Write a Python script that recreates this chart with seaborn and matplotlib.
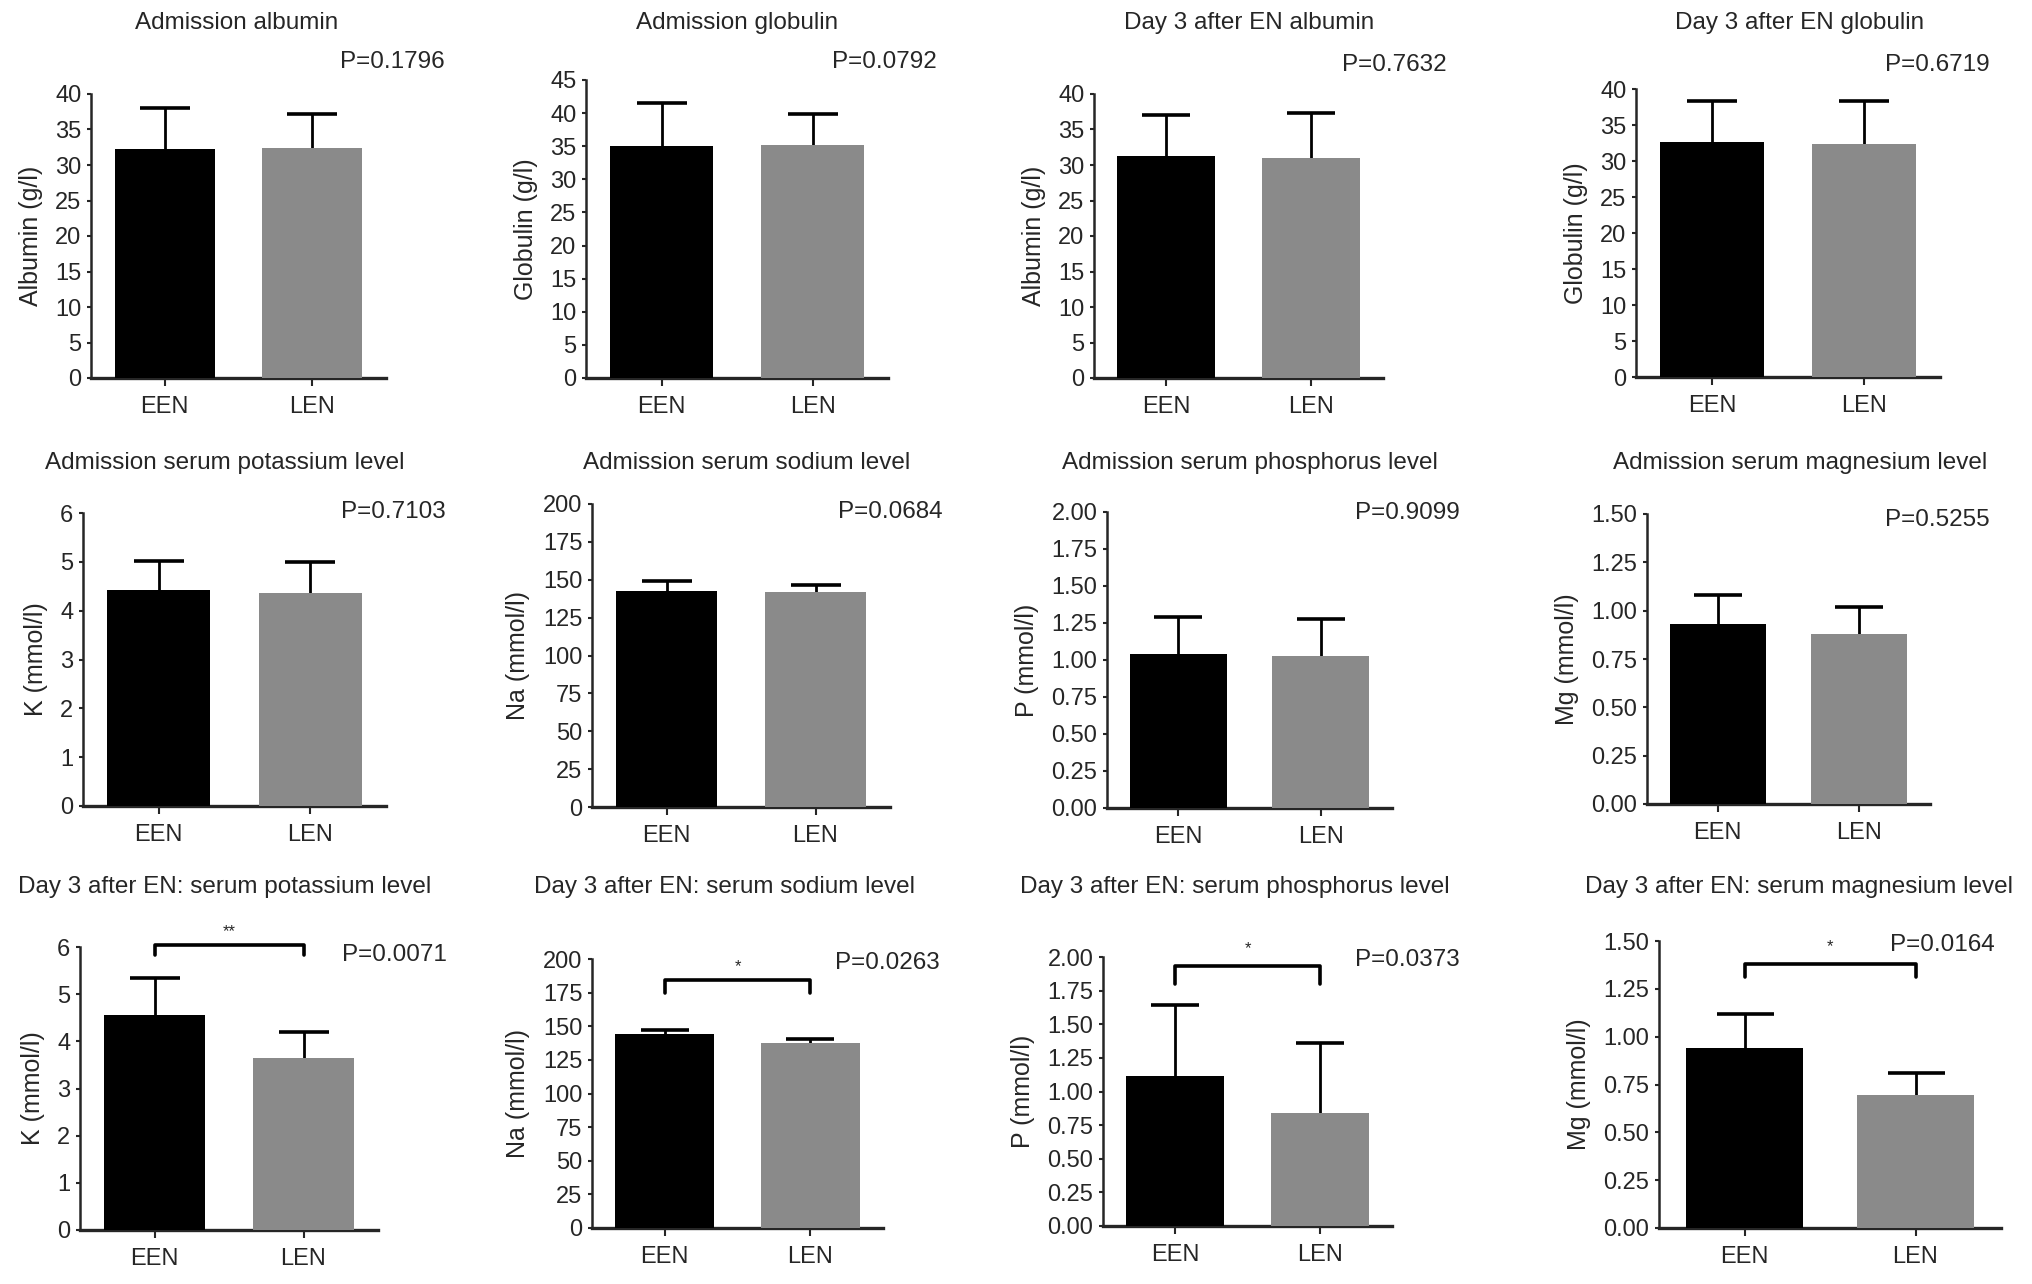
import numpy as np
import seaborn as sns
import matplotlib.pyplot as plt
from matplotlib import transforms

sns.set_style('ticks')
plt.rcParams['font.family'] = ['Liberation Sans', 'DejaVu Sans']

groups = ['EEN', 'LEN']
titles = ['Admission albumin', 'Admission globulin',
          'Day 3 after EN albumin', 'Day 3 after EN globulin',
          'Admission serum potassium level', 'Admission serum sodium level',
          'Admission serum phosphorus level', 'Admission serum magnesium level',
          'Day 3 after EN: serum potassium level', 'Day 3 after EN: serum sodium level',
          'Day 3 after EN: serum phosphorus level', 'Day 3 after EN: serum magnesium level']
ylabels = ['Albumin (g/l)', 'Globulin (g/l)', 'Albumin (g/l)', 'Globulin (g/l)',
           'K (mmol/l)', 'Na (mmol/l)', 'P (mmol/l)', 'Mg (mmol/l)',
           'K (mmol/l)', 'Na (mmol/l)', 'P (mmol/l)', 'Mg (mmol/l)']
p_values = ['P=0.1796', 'P=0.0792', 'P=0.7632', 'P=0.6719',
            'P=0.7103', 'P=0.0684', 'P=0.9099', 'P=0.5255',
            'P=0.0071', 'P=0.0263', 'P=0.0373', 'P=0.0164']

een_mean = [32.3, 35.1, 31.2, 32.7, 4.42, 142.7, 1.04, 0.93, 4.56, 144.2, 1.115, 0.943]
een_sd = [5.7, 6.5, 5.9, 5.6, 0.60, 6.2, 0.25, 0.15, 0.78, 3.3, 0.525, 0.174]
len_mean = [32.4, 35.2, 31.0, 32.4, 4.37, 141.8, 1.03, 0.88, 3.64, 137.3, 0.84, 0.694]
len_sd = [4.8, 4.6, 6.3, 5.9, 0.63, 4.9, 0.25, 0.14, 0.56, 3.5, 0.52, 0.115]

y_max = [40, 45, 40, 40, 6, 200, 2.0, 1.5, 6, 200, 2.0, 1.5]
y_step = [5, 5, 5, 5, 1, 25, 0.25, 0.25, 1, 25, 0.25, 0.25]

# significance brackets (panel index -> bracket top, drop end, stars, star y)
sig_panels = [8, 9, 10, 11]
sig_top = [6.05, 184.6, 1.93, 1.38]
sig_drop = [5.84, 175.0, 1.80, 1.31]
sig_label = ['**', '*', '*', '*']
sig_star_y = [6.33, 194.5, 2.06, 1.47]

# layout in pixels: left, right, bottom, top of each axes
W_PX, H_PX = 2032, 1284
boxes = [(91, 386, 378, 94), (586, 888, 378, 80), (1094, 1383, 378, 94), (1636, 1940, 377, 89),
         (83, 386, 806, 513), (592, 890, 807, 504), (1107, 1392, 808, 512), (1647, 1930, 804, 514),
         (80, 378, 1230, 947), (592, 883, 1228, 959), (1103, 1392, 1226, 957), (1659, 2001, 1228, 941)]
title_x = [237, 737, 1249, 1800, 225, 747, 1250, 1800, 225, 725, 1235, 1799]
title_y = [23] * 4 + [463] * 4 + [887] * 4
p_pos = [(445, 62), (937, 62), (1447, 65), (1990, 65),
         (446, 512), (943, 512), (1460, 513), (1990, 520),
         (447, 955), (940, 963), (1460, 960), (1995, 945)]

colors = ['#000000', '#8a8a8a']

fig = plt.figure(figsize=(W_PX / 100, H_PX / 100), dpi=100)

for i in range(12):
    l, r, b, t = boxes[i]
    ax = fig.add_axes([l / W_PX, 1 - b / H_PX, (r - l) / W_PX, (b - t) / H_PX])
    means = [een_mean[i], len_mean[i]]
    sds = [een_sd[i], len_sd[i]]
    sns.barplot(x=groups, y=means, hue=groups, palette=colors, width=0.68,
                saturation=1, legend=False, ax=ax, zorder=3, linewidth=0)
    cap = 0.06 * (r - l)
    ax.errorbar([0, 1], means, yerr=sds, fmt='none', ecolor='black',
                elinewidth=2, capsize=cap, capthick=2.6, zorder=2)
    ax.set_xlim(-0.5, 1.5)
    ax.set_ylim(0, y_max[i])
    ticks = np.arange(0, y_max[i] + y_step[i] / 2, y_step[i])
    ax.set_yticks(ticks)
    if y_step[i] < 1:
        ax.set_yticklabels(['%.2f' % v for v in ticks])
    else:
        ax.set_yticklabels(['%d' % v for v in ticks])
    sns.despine(ax=ax)
    ax.spines['left'].set_linewidth(1.8)
    ax.spines['bottom'].set_linewidth(2.4)
    ax.tick_params(axis='y', length=3, width=1.5, labelsize=17, pad=4)
    ax.tick_params(axis='x', length=6, width=1.5, labelsize=17, pad=7)
    ax.set_xlabel('')
    ax.set_ylabel(ylabels[i], fontsize=18, labelpad=9)

    tr = transforms.blended_transform_factory(fig.transFigure, fig.transFigure)
    ax.text(title_x[i] / W_PX, 1 - title_y[i] / H_PX, titles[i], transform=tr,
            ha='center', va='center', fontsize=17.5)
    px, py = p_pos[i]
    ax.text(px / W_PX, 1 - py / H_PX, p_values[i], transform=tr,
            ha='right', va='center', fontsize=17.5)

    if i in sig_panels:
        k = sig_panels.index(i)
        ax.plot([0, 0, 1, 1], [sig_drop[k], sig_top[k], sig_top[k], sig_drop[k]],
                color='black', lw=2.6, clip_on=False, zorder=4)
        ax.text(0.5, sig_star_y[k], sig_label[k], ha='center', va='center',
                fontsize=12, clip_on=False)

plt.savefig('out.png', dpi=100)
